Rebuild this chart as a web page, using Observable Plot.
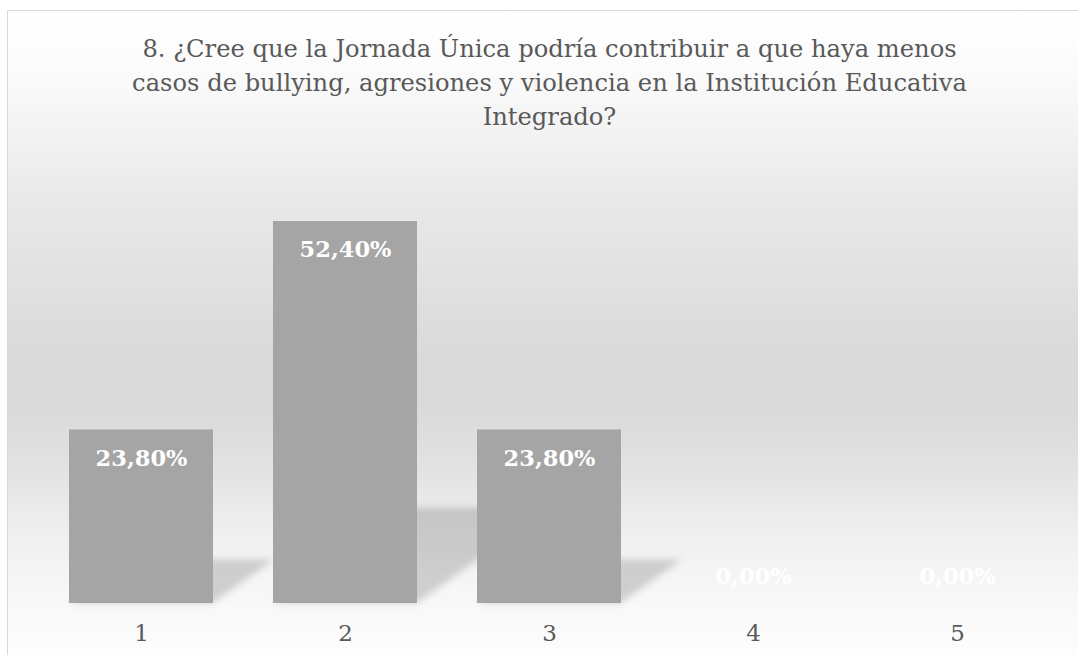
<!DOCTYPE html>
<html>
<head>
<meta charset="utf-8">
<script src="https://cdn.jsdelivr.net/npm/d3@7"></script>
<script src="https://cdn.jsdelivr.net/npm/@observablehq/plot@0.6"></script>
<style>
  html, body { margin: 0; padding: 0; background: #ffffff; overflow: hidden; width: 1078px; height: 655px; }
  #frame {
    position: absolute; left: 7px; top: 10px; width: 1090px; height: 660px;
    border-top: 1px solid #d9d9d9; border-left: 1px solid #d9d9d9;
    background: linear-gradient(to bottom,
      #ffffff 0px, #fbfbfb 60px, #f3f3f3 120px, #eaeaea 180px, #e3e3e3 250px,
      #dadada 340px, #dadada 400px, #e1e1e1 450px, #ebebeb 500px,
      #f3f3f3 550px, #f9f9f9 600px, #fdfdfd 645px);
    z-index: 0;
  }
  #chart { position: absolute; left: 0; top: 0; z-index: 1; }
  #title {
    position: absolute; left: 0; top: 32px; width: 1099px; z-index: 2;
    text-align: center; white-space: nowrap;
    font-family: "DejaVu Serif", serif; font-size: 24.2px; line-height: 34px; color: #595959;
  }
</style>
</head>
<body>
<div id="frame"></div>
<div id="chart"></div>
<div id="title">8. ¿Cree que la Jornada Única podría contribuir a que haya menos<br>casos de bullying, agresiones y violencia en la Institución Educativa<br>Integrado?</div>
<script>
const categories = ["1", "2", "3", "4", "5"];
const values = [23.8, 52.4, 23.8, 0, 0];
const valueLabels = ["23,80%", "52,40%", "23,80%", "0,00%", "0,00%"];

const data = categories.map((c, i) => ({cat: c, value: values[i], label: valueLabels[i]}));
const shadowRatio = 0.25;
const serif = "DejaVu Serif, serif";

const plot = Plot.plot({
  width: 1078,
  height: 655,
  margin: 0,
  style: {background: "transparent", overflow: "visible"},
  x: {domain: categories, range: [7, 1092], padding: 0.293, axis: null},
  y: {domain: [0, 60], range: [603, 165.6], axis: null},
  marks: [
    Plot.barY(data, {x: "cat", y: d => d.value * shadowRatio, fill: "#000", fillOpacity: 0.16}),
    Plot.barY(data, {x: "cat", y: "value", fill: "#a5a5a5"}),
    Plot.text(data.filter(d => d.value > 0), {x: "cat", y: "value", text: "label", fill: "#ffffff",
      fontWeight: "bold", fontSize: 22.5, fontFamily: serif, lineAnchor: "middle", dy: 28.5}),
    Plot.text(data.filter(d => d.value === 0), {x: "cat", y: "value", text: "label", fill: "#ffffff",
      fontWeight: "bold", fontSize: 22.5, fontFamily: serif, lineAnchor: "middle", dy: -26.5}),
    Plot.text(data, {x: "cat", y: () => 0, text: "cat", fill: "#595959",
      fontSize: 23, fontFamily: serif, lineAnchor: "middle", dy: 30.5})
  ]
});

// soft, skewed shadow behind the bars
const svg = d3.select(plot);
const base = plot.scale("y").range[0];
const defs = svg.insert("defs", ":first-child");
defs.append("filter").attr("id", "blurShadow")
  .attr("filterUnits", "userSpaceOnUse")
  .attr("x", 0).attr("y", 0).attr("width", 1200).attr("height", 700)
  .append("feGaussianBlur").attr("stdDeviation", 3.5);
const shadowG = svg.selectAll('g[aria-label="bar"]').nodes()[0];
const outer = document.createElementNS("http://www.w3.org/2000/svg", "g");
outer.setAttribute("filter", "url(#blurShadow)");
const inner = document.createElementNS("http://www.w3.org/2000/svg", "g");
inner.setAttribute("transform", `translate(0,${base}) skewX(-54.46) translate(0,${-base})`);
shadowG.parentNode.insertBefore(outer, shadowG);
outer.appendChild(inner);
inner.appendChild(shadowG);

document.getElementById("chart").appendChild(plot);
</script>
</body>
</html>
